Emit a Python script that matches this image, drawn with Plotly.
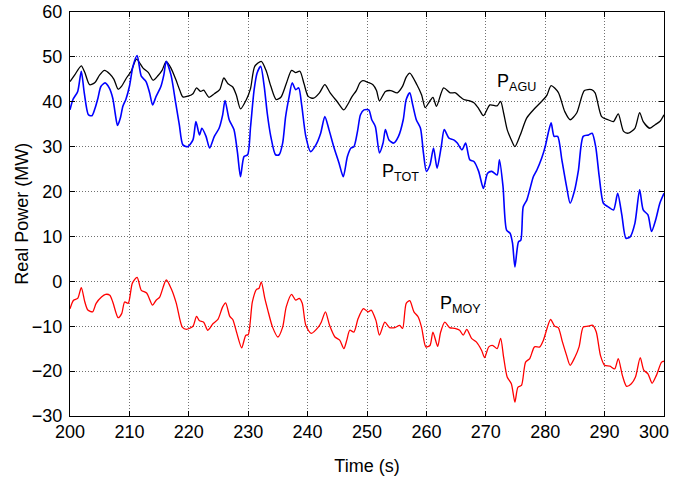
import plotly.graph_objects as go

# ---------------- data ----------------
agu_t = [200.0, 200.8, 201.9, 202.5, 203.3, 204.2, 205.0, 205.8, 206.7, 207.4, 208.1, 208.7, 209.5,
         210.3, 211.2, 212.3, 213.2, 214.0, 214.8, 215.5, 216.2, 217.0, 217.8, 218.5, 219.0, 220.0,
         220.7, 221.3, 222.0, 222.5, 223.4, 224.3, 225.2, 225.9, 226.6, 227.4, 228.0, 228.7, 229.7,
         230.4, 231.1, 232.2, 233.0, 233.8, 234.7, 235.5, 236.4, 237.3, 238.0, 238.7, 239.4, 240.1,
         241.0, 242.0, 242.9, 243.8, 245.0, 246.1, 246.8, 247.4, 248.2, 248.8, 249.3, 250.2, 251.0,
         251.6, 252.1, 253.1, 254.0, 255.1, 256.0, 256.6, 257.2, 258.4, 259.2, 259.8, 260.5, 261.1,
         261.7, 262.9, 264.0, 264.9, 265.6, 266.3, 267.3, 268.0, 268.8, 269.6, 270.7, 271.9, 272.5,
         273.0, 273.6, 274.3, 274.9, 275.8, 276.9, 278.3, 279.7, 280.3, 281.0, 282.2, 283.3, 284.2,
         285.3, 286.6, 287.8, 288.4, 289.5, 290.6, 291.5, 292.3, 293.2, 294.0, 295.1, 295.9, 296.5,
         297.6, 298.5, 299.3, 300.0]
agu_v = [44.5, 46.0, 48.0, 46.5, 43.8, 44.3, 46.0, 47.0, 46.2, 45.0, 42.8, 43.5, 45.3,
         46.8, 49.5, 47.5, 46.5, 44.8, 45.8, 47.0, 49.0, 47.5, 45.0, 42.5, 41.1, 41.3,
         41.8, 43.1, 42.3, 42.6, 41.0, 41.8, 42.7, 45.3, 44.0, 43.3, 41.5, 38.4, 40.5,
         43.0, 47.9, 49.0, 47.0, 43.5, 40.5, 41.0, 44.0, 47.0, 46.5, 46.8, 44.0, 41.2,
         40.8, 42.0, 43.8, 42.0, 40.0, 38.2, 39.5, 41.0, 42.5, 44.2, 44.7, 44.3, 43.8,
         42.5, 40.2, 42.3, 42.5, 42.0, 43.5, 45.5, 46.4, 43.8, 41.5, 38.7, 40.0, 41.0,
         39.0, 43.1, 42.0, 42.0, 41.2, 40.5, 40.2, 39.8, 38.5, 36.9, 39.3, 39.1, 40.1,
         37.5, 33.8, 31.5, 30.0, 32.6, 36.4, 38.6, 40.5, 41.5, 43.6, 42.1, 37.8, 36.0,
         37.5, 42.5, 42.7, 42.0, 36.7, 36.0, 35.6, 37.3, 33.4, 33.0, 34.1, 37.6, 35.6,
         34.1, 34.9, 35.6, 37.1]

tot_t = [200.0, 200.5, 201.3, 201.9, 202.4, 203.1, 203.7, 204.2, 204.7, 205.2, 205.9, 206.6, 207.2,
         207.6, 208.0, 208.5, 208.9, 209.4, 210.0, 210.6, 211.3, 212.0, 212.8, 213.4, 213.9, 214.5,
         215.3, 215.8, 216.2, 217.0, 217.8, 218.4, 219.0, 219.8, 220.7, 221.2, 221.8, 222.2, 222.9,
         223.5, 224.3, 225.1, 225.7, 226.1, 226.8, 227.6, 228.2, 228.7, 229.3, 229.9, 230.4, 231.0,
         231.5, 232.1, 232.7, 233.2, 233.8, 234.6, 235.2, 235.8, 236.3, 236.9, 237.4, 238.0, 238.5,
         239.0, 239.7, 240.5, 241.4, 242.2, 242.9, 243.6, 244.4, 245.3, 246.0, 246.7, 247.3, 247.8,
         248.4, 248.9, 249.5, 250.3, 250.8, 251.4, 252.1, 252.7, 253.1, 253.7, 254.5, 255.3, 256.1,
         256.6, 257.2, 257.7, 258.3, 259.0, 259.5, 260.0, 260.6, 261.2, 261.8, 262.5, 263.0, 263.8,
         264.6, 265.2, 266.0, 266.6, 267.3, 268.0, 268.8, 269.6, 270.3, 271.0, 271.9, 272.3, 272.9,
         273.5, 274.1, 274.5, 274.9, 275.5, 275.9, 276.3, 276.9, 277.4, 278.0, 278.6, 279.4, 280.0,
         280.5, 281.0, 281.5, 282.1, 282.8, 283.6, 284.2, 284.9, 285.6, 286.4, 287.3, 287.9, 288.5,
         289.1, 289.8, 290.6, 291.5, 292.2, 292.9, 293.6, 294.3, 295.1, 295.9, 296.5, 297.3, 297.9,
         298.6, 299.3, 300.0]
tot_v = [38.2, 40.5, 42.3, 46.8, 42.0, 37.1, 36.9, 38.5, 40.8, 43.4, 44.2, 43.1, 40.8,
         37.5, 34.7, 36.5, 39.0, 40.5, 43.4, 47.9, 50.3, 45.7, 44.5, 42.0, 39.3, 41.2,
         43.4, 46.0, 49.0, 46.0, 39.7, 34.9, 30.4, 30.0, 31.5, 35.6, 32.6, 34.1, 32.3,
         29.7, 32.3, 34.1, 37.1, 40.3, 36.0, 33.8, 28.6, 23.3, 27.8, 28.2, 34.5, 42.7,
         46.4, 47.9, 43.4, 37.5, 32.3, 28.2, 28.2, 30.8, 36.7, 41.2, 44.2, 42.7, 43.1,
         39.3, 32.3, 28.9, 30.4, 33.0, 36.7, 33.8, 30.0, 26.3, 23.3, 27.8, 29.7, 30.0,
         33.4, 37.1, 38.2, 38.2, 36.0, 34.5, 28.6, 30.8, 33.8, 31.5, 30.8, 32.3, 36.0,
         40.5, 42.0, 39.3, 36.0, 34.1, 28.6, 24.5, 25.9, 29.7, 25.2, 30.0, 33.8, 31.9,
         31.5, 30.8, 29.3, 30.8, 27.1, 26.7, 24.5, 20.7, 24.1, 24.5, 23.7, 27.1, 21.1,
         11.4, 10.7, 8.5, 3.2, 8.8, 9.2, 16.6, 18.1, 20.4, 23.3, 24.8, 27.4, 30.0,
         33.0, 35.3, 32.3, 32.3, 27.1, 21.1, 17.4, 20.0, 24.8, 32.3, 32.6, 33.0, 30.0,
         23.3, 17.4, 16.6, 15.9, 19.6, 14.8, 9.6, 9.9, 12.9, 20.4, 15.9, 14.8, 11.1,
         13.7, 17.4, 19.6]

moy_t = [200.0, 200.6, 201.3, 201.9, 202.5, 203.0, 203.8, 204.4, 205.3, 206.0, 206.7, 207.2, 208.1,
         208.7, 209.2, 209.8, 210.5, 211.3, 212.0, 212.9, 213.9, 214.5, 215.1, 216.2, 217.1, 217.9,
         218.9, 219.6, 220.7, 221.3, 221.8, 222.5, 223.2, 224.1, 224.9, 225.7, 226.2, 226.9, 227.4,
         228.1, 228.9, 229.6, 230.0, 230.7, 231.4, 231.8, 232.2, 232.8, 233.3, 234.1, 235.0, 235.8,
         236.4, 237.3, 238.0, 238.6, 239.1, 239.7, 240.6, 241.8, 242.3, 243.0, 243.7, 244.6, 245.4,
         246.1, 246.6, 247.1, 247.8, 248.5, 249.4, 250.2, 250.7, 251.5, 252.1, 253.0, 253.8, 254.7,
         255.5, 256.0, 256.6, 257.2, 257.9, 258.6, 259.2, 259.9, 260.6, 261.1, 261.9, 262.4, 263.1,
         263.9, 264.8, 265.6, 266.2, 266.8, 267.6, 268.4, 269.3, 269.8, 270.5, 271.2, 271.9, 272.5,
         273.0, 273.6, 274.3, 274.9, 275.4, 276.0, 276.7, 277.4, 278.2, 279.1, 279.7, 280.9, 281.6,
         282.2, 282.9, 283.6, 284.2, 285.0, 285.7, 286.4, 287.2, 288.0, 288.6, 289.3, 290.0, 290.9,
         291.7, 292.3, 293.0, 293.7, 294.5, 295.2, 296.0, 296.6, 297.3, 298.0, 298.7, 299.6, 300.0]
moy_v = [-6.1, -4.2, -3.8, -1.4, -4.6, -6.4, -6.8, -4.9, -3.5, -2.9, -3.1, -4.6, -8.1,
         -7.2, -4.6, -4.9, -0.4, 0.9, -2.0, -2.6, -5.3, -4.2, -3.5, 0.3, -1.8, -4.9,
         -10.2, -10.7, -10.0, -7.8, -8.8, -9.1, -10.9, -9.4, -8.5, -5.7, -4.8, -7.8, -8.5,
         -11.6, -14.8, -12.0, -11.9, -4.6, -1.8, -1.6, -0.1, -3.8, -6.4, -10.2, -12.4, -10.2,
         -5.7, -2.9, -4.2, -3.8, -4.9, -9.8, -11.6, -10.2, -9.1, -6.8, -9.8, -12.4, -13.1,
         -15.0, -13.1, -10.9, -11.3, -8.3, -6.1, -6.8, -6.4, -8.7, -12.0, -9.1, -10.3, -10.3,
         -9.8, -10.5, -4.9, -4.3, -6.8, -7.9, -10.3, -14.6, -14.3, -11.3, -14.5, -11.3, -9.1,
         -10.3, -10.5, -10.9, -12.0, -10.7, -12.7, -13.5, -15.4, -17.0, -14.6, -14.3, -15.0, -12.7,
         -16.9, -21.3, -22.8, -26.9, -23.6, -23.2, -18.0, -17.2, -14.6, -14.6, -13.1, -8.5, -10.0,
         -10.3, -13.5, -16.5, -18.7, -16.9, -14.6, -10.2, -10.0, -9.8, -11.3, -16.5, -18.7, -18.9,
         -19.5, -17.2, -21.0, -23.4, -22.8, -21.3, -17.0, -19.8, -20.6, -22.7, -21.0, -18.0, -17.8]

x_ticks = list(range(200, 301, 10))
x_ticktext = [str(v) for v in x_ticks[:-1]] + ["300\u2007\u2007"]
y_ticks = list(range(-30, 61, 10))

labels = ["P<sub>AGU</sub>", "P<sub>TOT</sub>", "P<sub>MOY</sub>"]
label_x = [271.6, 252.2, 262.0]
label_y = [44.3, 24.3, -5.2]

# ---------------- figure ----------------
FONT = "Liberation Sans, Arial, Helvetica, sans-serif"
fig = go.Figure()
line_style = dict(shape="spline", smoothing=0.7)
fig.add_trace(go.Scatter(x=agu_t, y=agu_v, mode="lines",
                         line=dict(color="#000000", width=1.3, **line_style), showlegend=False))
fig.add_trace(go.Scatter(x=tot_t, y=tot_v, mode="lines",
                         line=dict(color="#0000ff", width=1.6, **line_style), showlegend=False))
fig.add_trace(go.Scatter(x=moy_t, y=moy_v, mode="lines",
                         line=dict(color="#ff0000", width=1.3, **line_style), showlegend=False))

for txt, lx, ly in zip(labels, label_x, label_y):
    fig.add_annotation(x=lx, y=ly, text=txt, showarrow=False, xanchor="left", yanchor="middle",
                       font=dict(family=FONT, size=18, color="#000000"))

# y-axis title placed as a rotated paper annotation
fig.add_annotation(x=-0.0813, y=0.5, xref="paper", yref="paper", text="Real Power (MW)",
                   textangle=-90, showarrow=False, xanchor="center", yanchor="middle",
                   font=dict(family=FONT, size=18, color="#000000"))

axis_common = dict(
    showline=True, linecolor="#000000", linewidth=1.3, mirror="ticks",
    ticks="inside", ticklen=5, tickcolor="#000000", tickwidth=1,
    showgrid=True, gridcolor="#707070", griddash="1px,2px", gridwidth=1,
    zeroline=False, automargin=False,
    tickfont=dict(family=FONT, size=18, color="#000000"),
)

fig.update_layout(
    width=693, height=480,
    margin=dict(l=70, r=29, t=12, b=64, autoexpand=False),
    plot_bgcolor="#ffffff", paper_bgcolor="#ffffff",
    font=dict(family=FONT, size=18, color="#000000"),
    hovermode=False,
    xaxis=dict(range=[200, 300], tickvals=x_ticks, ticktext=x_ticktext,
               title=dict(text="Time (s)", font=dict(family=FONT, size=18), standoff=18),
               ticklabelstandoff=-1, **axis_common),
    yaxis=dict(range=[-30, 60], tickvals=y_ticks,
               ticklabelstandoff=3, **axis_common),
)

# remove the browser's default 8px body margin so the figure fills the window exactly
fig.write_html("out.html", config={"displayModeBar": False},
               post_script="document.body.style.margin='0';")
